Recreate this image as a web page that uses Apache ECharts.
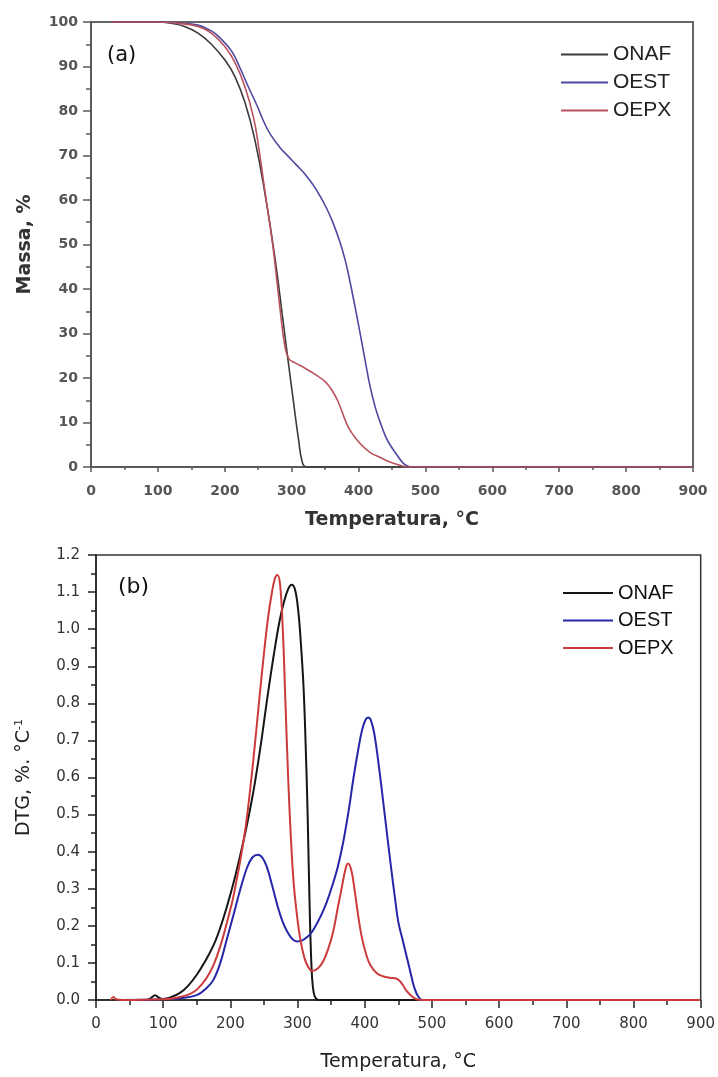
<!DOCTYPE html>
<html>
<head>
<meta charset="utf-8">
<script src="https://cdn.jsdelivr.net/npm/echarts@6.0.0/dist/echarts.min.js"></script>
<style>
html,body{margin:0;padding:0;background:#fff;}
#chartA{position:absolute;left:0;top:0;width:718px;height:540px;}
#chartB{position:absolute;left:0;top:540px;width:718px;height:537px;}
</style>
</head>
<body>
<div id="chartA"></div>
<div id="chartB"></div>
<script>
// ---------- (a) TGA : mass (%) vs temperature (°C) ----------
const seriesNames = ['ONAF', 'OEST', 'OEPX'];
const xTicks = [0, 100, 200, 300, 400, 500, 600, 700, 800, 900];

const tgaTempONAF = [30, 100, 120, 140, 160, 180, 200, 215, 230, 245, 260, 275, 287, 295, 303, 310, 316, 322, 400, 500, 600, 700, 800, 900];
const tgaMassONAF = [100, 100, 99.7, 99, 97.5, 95, 91.5, 87.8, 82, 73.5, 61.5, 47, 33, 23.5, 14.3, 6.5, 1, 0, 0, 0, 0, 0, 0, 0];

const tgaTempOEST = [30, 100, 130, 160, 180, 193, 210, 223, 235, 248, 258, 268, 283, 295, 307, 320, 332, 342, 352, 362, 372, 380, 387, 395, 402, 410, 417, 425, 432, 440, 447, 457, 467, 475, 480, 500, 600, 700, 800, 900];
const tgaMassOEST = [100, 100, 99.8, 99.3, 98, 96.4, 93.5, 89.6, 85.5, 81.3, 77.7, 74.8, 71.7, 69.8, 67.9, 65.8, 63.4, 61, 58.2, 54.8, 50.6, 46.5, 41.8, 35.8, 30.3, 23.8, 18.3, 13.4, 10.2, 7, 5, 2.8, 0.8, 0.1, 0, 0, 0, 0, 0, 0];

const tgaTempOEPX = [30, 100, 130, 160, 180, 200, 215, 230, 243, 250, 260, 272, 283, 290, 296, 305, 320, 335, 350, 360, 370, 382, 390, 401, 417, 432, 447, 462, 472, 500, 600, 700, 800, 900];
const tgaMassOEPX = [100, 100, 99.7, 99, 97.5, 94.5, 91, 85.5, 78.5, 72.5, 62, 49.5, 35, 27, 24.3, 23.4, 22.2, 20.8, 19.2, 17.3, 14.5, 9.8, 7.6, 5.5, 3.3, 2.2, 1.1, 0.4, 0, 0, 0, 0, 0, 0];

// ---------- (b) DTG (%.°C-1) vs temperature (°C) ----------
const dtgTempONAF = [40, 75, 82, 88, 94, 100, 112, 125, 137, 150, 162, 175, 185, 195, 205, 215, 225, 235, 245, 255, 265, 273, 280, 286, 291, 296, 301, 305, 309, 312, 315, 318, 321, 324, 328, 335, 400, 500, 600, 700, 800, 900];
const dtgValONAF = [0, 0, 0.006, 0.013, 0.006, 0.003, 0.008, 0.019, 0.038, 0.068, 0.103, 0.148, 0.195, 0.253, 0.318, 0.393, 0.475, 0.57, 0.685, 0.815, 0.935, 1.02, 1.075, 1.108, 1.12, 1.108, 1.05, 0.96, 0.84, 0.69, 0.5, 0.25, 0.08, 0.02, 0.003, 0, 0, 0, 0, 0, 0, 0];

const dtgTempOEST = [40, 100, 125, 150, 165, 175, 185, 195, 205, 215, 225, 233, 241, 248, 255, 262, 270, 278, 286, 293, 299, 306, 313, 320, 327, 335, 343, 352, 360, 368, 376, 383, 390, 396, 401, 405, 409, 414, 420, 427, 433, 439, 445, 450, 456, 462, 468, 474, 480, 486, 500, 600, 700, 800, 900];
const dtgValOEST = [0, 0.002, 0.005, 0.013, 0.033, 0.055, 0.1, 0.166, 0.232, 0.3, 0.358, 0.385, 0.392, 0.383, 0.355, 0.31, 0.255, 0.21, 0.18, 0.163, 0.158, 0.16, 0.168, 0.18, 0.2, 0.228, 0.262, 0.31, 0.36, 0.426, 0.51, 0.596, 0.672, 0.728, 0.755, 0.762, 0.755, 0.72, 0.645, 0.542, 0.45, 0.36, 0.275, 0.21, 0.165, 0.12, 0.075, 0.032, 0.008, 0, 0, 0, 0, 0, 0];

const dtgTempOEPX = [22, 26, 30, 40, 100, 125, 150, 175, 200, 210, 217, 223, 229, 236, 243, 250, 256, 261, 266, 270, 274, 278, 282, 286, 290, 294, 299, 304, 310, 316, 322, 330, 338, 346, 353, 360, 366, 371, 375, 380, 385, 390, 395, 401, 408, 418, 427, 437, 447, 455, 462, 470, 477, 485, 500, 600, 700, 800, 900];
const dtgValOEPX = [0, 0.008, 0.002, 0, 0.002, 0.008, 0.028, 0.095, 0.245, 0.33, 0.4, 0.47, 0.56, 0.68, 0.81, 0.935, 1.03, 1.09, 1.135, 1.146, 1.12, 1.0, 0.8, 0.6, 0.44, 0.32, 0.23, 0.165, 0.115, 0.088, 0.078, 0.085, 0.104, 0.14, 0.184, 0.25, 0.305, 0.35, 0.368, 0.35, 0.295, 0.23, 0.175, 0.13, 0.095, 0.072, 0.064, 0.06, 0.058, 0.045, 0.025, 0.01, 0.002, 0, 0, 0, 0, 0, 0];

const zip = (xs, ys) => xs.map((x, i) => [x, ys[i]]);
const FONT = 'DejaVu Sans';
const LFONT = 'Liberation Sans';

// ---------- chart (a) ----------
const colA = ['#3a3a3a', '#4d48a0', '#b8525c'];
const chartA = echarts.init(document.getElementById('chartA'), null, {renderer: 'canvas'});
const axisGrayA = '#5a5a5a';
chartA.setOption({
  animation: false,
  backgroundColor: '#fff',
  grid: {left: 91, right: 25, top: 22, bottom: 73, show: true, borderColor: '#666', borderWidth: 2, backgroundColor: 'transparent'},
  legend: {
    orient: 'vertical', left: 556, top: 39, itemWidth: 47, itemHeight: 2, itemGap: 7, icon: 'rect',
    data: seriesNames,
    textStyle: {fontFamily: LFONT, fontSize: 21, color: '#222', lineHeight: 20}
  },
  graphic: [{type: 'text', left: 107, top: 45, style: {text: '(a)', font: '21px "DejaVu Sans"', fill: '#111'}}],
  xAxis: {
    type: 'value', min: 0, max: 900, interval: 100,
    name: 'Temperatura, °C', nameLocation: 'middle', nameGap: 44,
    nameTextStyle: {fontFamily: FONT, fontWeight: 'bold', fontSize: 19, color: '#333'},
    axisLine: {onZero: false, lineStyle: {color: axisGrayA, width: 2}},
    axisTick: {show: true, inside: false, length: 5, lineStyle: {color: axisGrayA, width: 1.5}},
    minorTick: {show: true, splitNumber: 2, length: 3, lineStyle: {color: axisGrayA, width: 1.5}},
    axisLabel: {margin: 17, fontFamily: FONT, fontWeight: 'bold', fontSize: 14, color: '#555',
      formatter: v => xTicks.includes(v) ? String(v) : ''},
    splitLine: {show: false}
  },
  yAxis: {
    type: 'value', min: 0, max: 100, interval: 10,
    name: 'Massa, %', nameLocation: 'middle', nameGap: 56,
    nameTextStyle: {fontFamily: FONT, fontWeight: 'bold', fontSize: 19, color: '#333'},
    axisLine: {onZero: false, lineStyle: {color: axisGrayA, width: 2}},
    axisTick: {show: true, inside: false, length: 8, lineStyle: {color: axisGrayA, width: 1.5}},
    minorTick: {show: true, splitNumber: 2, length: 5, lineStyle: {color: axisGrayA, width: 1.5}},
    axisLabel: {margin: 13, fontFamily: FONT, fontWeight: 'bold', fontSize: 14, color: '#555'},
    splitLine: {show: false}
  },
  series: [
    {name: 'ONAF', type: 'line', data: zip(tgaTempONAF, tgaMassONAF)},
    {name: 'OEST', type: 'line', data: zip(tgaTempOEST, tgaMassOEST)},
    {name: 'OEPX', type: 'line', data: zip(tgaTempOEPX, tgaMassOEPX)}
  ].map((s, i) => Object.assign(s, {
    showSymbol: false, smooth: 0.45, color: colA[i],
    lineStyle: {color: colA[i], width: 1.6}
  }))
});

// ---------- chart (b) ----------
const colB = ['#151515', '#2626a8', '#cc3b3b'];
const chartB = echarts.init(document.getElementById('chartB'), null, {renderer: 'canvas'});
const axisB = '#222';
chartB.setOption({
  animation: false,
  backgroundColor: '#fff',
  grid: {left: 96, right: 17, top: 15, bottom: 75, show: true, borderColor: '#333', borderWidth: 1.5, backgroundColor: 'transparent'},
  legend: {
    orient: 'vertical', left: 558, top: 38, itemWidth: 50, itemHeight: 2, itemGap: 7.5, icon: 'rect',
    data: seriesNames,
    textStyle: {fontFamily: LFONT, fontSize: 20, color: '#111', lineHeight: 20}
  },
  graphic: [{type: 'text', left: 118, top: 36, style: {text: '(b)', font: '22px "DejaVu Sans"', fill: '#111'}}],
  xAxis: {
    type: 'value', min: 0, max: 900, interval: 100,
    name: 'Temperatura, °C', nameLocation: 'middle', nameGap: 53,
    nameTextStyle: {fontFamily: FONT, fontSize: 19, color: '#222'},
    axisLine: {onZero: false, lineStyle: {color: axisB, width: 1.5}},
    axisTick: {show: true, inside: false, length: 8, lineStyle: {color: axisB, width: 1.5}},
    minorTick: {show: true, splitNumber: 2, length: 5, lineStyle: {color: axisB, width: 1.5}},
    axisLabel: {margin: 17, fontFamily: FONT, fontSize: 15, color: '#333'},
    splitLine: {show: false}
  },
  yAxis: {
    type: 'value', min: 0, max: 1.2, interval: 0.1,
    name: '{t|DTG, %. °C}{s|-1}', nameLocation: 'middle', nameGap: 61,
    nameTextStyle: {fontFamily: FONT, fontSize: 19, color: '#222',
      rich: {t: {fontFamily: FONT, fontSize: 19, color: '#222'}, s: {fontFamily: FONT, fontSize: 11, color: '#222', verticalAlign: 'top', padding: [0, 0, 10, 0]}}},
    axisLine: {onZero: false, lineStyle: {color: axisB, width: 1.5}},
    axisTick: {show: true, inside: false, length: 8, lineStyle: {color: axisB, width: 1.5}},
    minorTick: {show: true, splitNumber: 2, length: 5, lineStyle: {color: axisB, width: 1.5}},
    axisLabel: {margin: 16, fontFamily: FONT, fontSize: 15, color: '#333', formatter: v => v.toFixed(1)},
    splitLine: {show: false}
  },
  series: [
    {name: 'ONAF', type: 'line', data: zip(dtgTempONAF, dtgValONAF)},
    {name: 'OEST', type: 'line', data: zip(dtgTempOEST, dtgValOEST)},
    {name: 'OEPX', type: 'line', data: zip(dtgTempOEPX, dtgValOEPX)}
  ].map((s, i) => Object.assign(s, {
    showSymbol: false, smooth: 0.4, color: colB[i],
    lineStyle: {color: colB[i], width: 2}
  }))
});
</script>
</body>
</html>
